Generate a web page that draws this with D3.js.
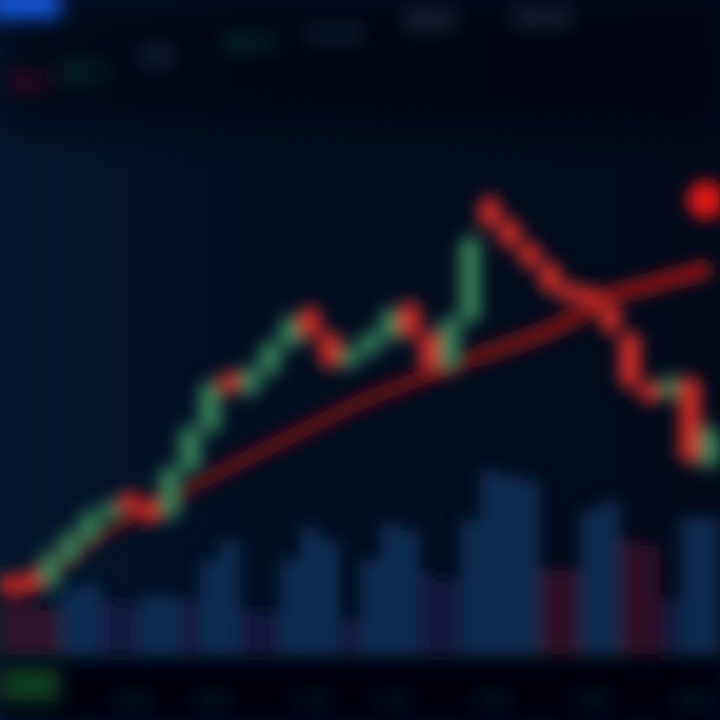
<!DOCTYPE html>
<html><head><meta charset="utf-8">
<script src="https://cdn.jsdelivr.net/npm/d3@7"></script>
<style>html,body{margin:0;padding:0;background:#020a18;overflow:hidden}</style>
</head><body><svg id="c" width="720" height="720"></svg>
<script>
// ---- data ----
const openP  = [105.5,106.25,103.75,110,115,120.5,126.25,123.75,121.25,132.5,142.5,156.25,152,157,163.75,172.5,166.25,158.75,162,165.5,173.75,166.25,158,170,200,194.5,188.75,183.75,178.75,177.5,173.75,166.25,153.75,151.25,155,133.75];
const closeP = [102,103,111.25,116.25,121.25,123.75,122.5,120,132.5,142.5,153.75,152.5,157.5,163.75,170,166.25,158.75,162.5,166.25,172,166.25,157.5,170,190,193.75,188.75,183.75,177.5,175,173.75,167.5,153.75,150,155,135,142.5];
const highP  = [107.5,108.25,113.25,118.25,123.25,125.75,128.25,125.75,134.5,144.5,155.75,158.25,159.5,165.75,172,174.5,168.25,164.5,168.25,174,175.75,168.25,172,192,202,196.5,190.75,185.75,180.75,179.5,175.75,168.25,155.75,157,157,144.5];
const lowP   = [100,101,101.75,108,113,118.5,120.5,118,119.25,130.5,140.5,150.5,150,155,161.75,164.25,156.75,156.75,160,163.5,164.25,155.5,156,168,191.75,186.75,181.75,175.5,173,171.75,165.5,151.75,148,149.25,133,131.75];
const maP    = [100.5,103.75,107.5,111.25,115,118,120.75,123.25,125.75,128.25,130.75,133.25,135.75,138.25,140.75,143.25,145.75,148.25,150.5,152.5,154.5,156.5,158.5,160.25,162,163.75,165.5,167.5,170,173,176,177.5,178.75,180.25,181.5,183];
const volume = [26,26,22.5,32.5,35,27.5,25,29,29,27.5,47.5,57.5,22.5,21.5,47.5,64,57.5,17.5,47.5,66,62.5,41,37.5,67.5,92.5,90,87.5,42.5,42.5,72.5,77.5,57.5,55,27.5,69,69];
const volDir = ["d","d","d","u","u","m","m","u","u","m","u","u","m","m","u","u","u","m","u","u","u","m","m","u","u","u","u","d","d","u","u","d","d","m","u","u"];
const lastPrice = 200;
const tickIdx = [6,10,15,19,24,29,34];
const tickLabels = ["10:00","10:30","11:00","11:30","13:30","14:00","14:30"];
const legendLabels = ["MA5","183.0","VOL","MA10","176.50","MA20","165.20"];
const legendColors = ["#8a1830","#165a44","#3c4e6e","#155a48","#33486a","#4a5a78","#4e6080"];

// ---- setup ----
const W=720,H=720;
const svg=d3.select("#c");
const defs=svg.append("defs");
function blur(id,s){defs.append("filter").attr("id",id).attr("filterUnits","userSpaceOnUse")
  .attr("x",-60).attr("y",-60).attr("width",W+120).attr("height",H+120)
  .append("feGaussianBlur").attr("stdDeviation",s);}
blur("b1",8);blur("b2",10);blur("b3",16);blur("b4",4);
const bg=defs.append("linearGradient").attr("id","bg").attr("x1",0).attr("y1",0).attr("x2",1).attr("y2",0);
bg.append("stop").attr("offset","0").attr("stop-color","#04182f");
bg.append("stop").attr("offset","0.35").attr("stop-color","#020f22");
bg.append("stop").attr("offset","1").attr("stop-color","#020a1a");
const mag=defs.append("linearGradient").attr("id","mag").attr("gradientUnits","userSpaceOnUse")
  .attr("x1",0).attr("y1",0).attr("x2",720).attr("y2",0);
mag.append("stop").attr("offset","0").attr("stop-color","#520b1a");
mag.append("stop").attr("offset","0.6").attr("stop-color","#701016");
mag.append("stop").attr("offset","1").attr("stop-color","#a81a18");

svg.append("rect").attr("width",W).attr("height",H).attr("fill","url(#bg)");
svg.append("rect").attr("width",W).attr("height",130).attr("fill","#010611").attr("opacity",0.6).attr("filter","url(#b3)");
svg.append("rect").attr("y",662).attr("width",W).attr("height",60).attr("fill","#010611").attr("filter","url(#b2)");

const n=openP.length;
const x=d3.scaleLinear().domain([0,n-1]).range([10,710]);
const y=d3.scaleLinear().domain([100,210]).range([600,160]);
const yv=d3.scaleLinear().domain([0,100]).range([655,455]);

// grid
const grid=svg.append("g").attr("filter","url(#b4)");
grid.selectAll("line").data(d3.range(0,n,1)).join("line")
  .attr("x1",d=>x(d)).attr("x2",d=>x(d)).attr("y1",40).attr("y2",655)
  .attr("stroke","#0a2040").attr("stroke-width",3).attr("opacity",0.22);

// volume
const volColor={u:"#0c3864",d:"#440c2c",m:"#1e1a4a"};
svg.append("g").attr("filter","url(#b1)").selectAll("rect").data(volume).join("rect")
  .attr("x",(d,i)=>x(i)-10).attr("width",20)
  .attr("y",d=>yv(d)).attr("height",d=>yv(0)-yv(d))
  .attr("fill",(d,i)=>volColor[volDir[i]]).attr("opacity",0.68);

// moving average
const line=d3.line().x((d,i)=>x(i)).y(d=>y(d)).curve(d3.curveMonotoneX);
svg.append("path").datum(maP).attr("d",line).attr("fill","none")
  .attr("stroke","url(#mag)").attr("stroke-width",15).attr("filter","url(#b1)");

// candles
const cg=svg.append("g").attr("filter","url(#b1)");
const up=i=>closeP[i]>=openP[i];
const candle=cg.selectAll("g").data(openP).join("g");
candle.append("line").attr("x1",(d,i)=>x(i)).attr("x2",(d,i)=>x(i))
  .attr("y1",(d,i)=>y(highP[i])).attr("y2",(d,i)=>y(lowP[i]))
  .attr("stroke",(d,i)=>up(i)?"#347c56":"#c82c26").attr("stroke-width",4);
candle.append("rect").attr("x",(d,i)=>x(i)-11).attr("width",22)
  .attr("y",(d,i)=>y(Math.max(openP[i],closeP[i])))
  .attr("height",(d,i)=>Math.max(6,Math.abs(y(openP[i])-y(closeP[i]))))
  .attr("fill",(d,i)=>up(i)?"#347c56":"#c82c26");

// last price marker
svg.append("circle").attr("cx",x(n-1)-4).attr("cy",y(lastPrice)).attr("r",19)
  .attr("fill","#dc1616").attr("filter","url(#b1)");

// x axis labels
const ax=svg.append("g").attr("filter","url(#b2)");
ax.selectAll("text").data(tickIdx).join("text")
  .attr("x",d=>x(d)).attr("y",706).attr("text-anchor","middle")
  .attr("font-family","Roboto, sans-serif").attr("font-size",16).attr("font-weight","bold")
  .attr("fill","#1a3858").text((d,i)=>tickLabels[i]);
svg.append("rect").attr("x",0).attr("y",668).attr("width",60).attr("height",34)
  .attr("fill","#0c4020").attr("filter","url(#b2)");

// top legend (out of focus)
const lg=svg.append("g").attr("filter","url(#b2)");
const lx=[28,82,158,250,332,430,540], ly=[88,78,62,48,40,26,24];
lg.selectAll("text").data(legendLabels).join("text")
  .attr("x",(d,i)=>lx[i]).attr("y",(d,i)=>ly[i]).attr("text-anchor","middle")
  .attr("font-family","Roboto, sans-serif").attr("font-size",18).attr("font-weight","bold")
  .attr("fill",(d,i)=>legendColors[i]).text(d=>d);
svg.append("rect").attr("x",-10).attr("y",-10).attr("width",70).attr("height",28)
  .attr("fill","#1258e0").attr("filter","url(#b2)");
</script></body></html>
